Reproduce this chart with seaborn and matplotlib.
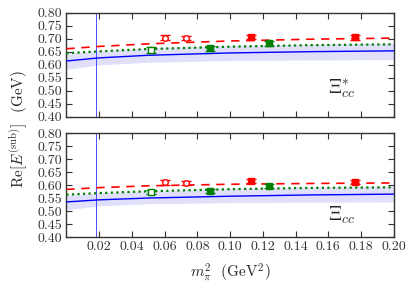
import matplotlib
matplotlib.use("Agg")
import matplotlib.pyplot as plt
import seaborn as sns
import pandas as pd

sns.set_style("ticks")
plt.rcParams['font.family'] = 'serif'
plt.rcParams['font.serif'] = ['cmr10', 'DejaVu Serif']
plt.rcParams['mathtext.fontset'] = 'cm'
plt.rcParams['axes.unicode_minus'] = False
plt.rcParams['axes.formatter.use_mathtext'] = True

# physical point
x_phys = 0.0184

# fit curves (read at sample x)
curve_x = [0.0, 0.02, 0.05, 0.10, 0.15, 0.20]
top_red = [0.662, 0.671, 0.681, 0.692, 0.699, 0.703]
top_green = [0.645, 0.652, 0.661, 0.670, 0.676, 0.679]
top_blue = [0.615, 0.627, 0.637, 0.646, 0.651, 0.654]
top_band_lo = [0.583, 0.600, 0.610, 0.617, 0.619, 0.620]
top_band_hi = [0.645, 0.655, 0.665, 0.675, 0.680, 0.685]

bot_red = [0.583, 0.590, 0.597, 0.603, 0.606, 0.608]
bot_green = [0.563, 0.569, 0.576, 0.584, 0.589, 0.591]
bot_blue = [0.535, 0.543, 0.550, 0.557, 0.562, 0.565]
bot_band_lo = [0.505, 0.520, 0.528, 0.532, 0.534, 0.535]
bot_band_hi = [0.560, 0.570, 0.578, 0.587, 0.592, 0.596]

# lattice points
red_open_x = [0.0604, 0.073]
red_fill_x = [0.113, 0.176]
green_open_x = [0.052]
green_fill_x = [0.0876, 0.124]

top_red_open_y = [0.705, 0.703]
top_red_open_e = [0.010, 0.009]
top_red_fill_y = [0.707, 0.706]
top_red_fill_e = [0.009, 0.009]
top_green_open_y = [0.658]
top_green_open_e = [0.012]
top_green_fill_y = [0.664, 0.683]
top_green_fill_e = [0.009, 0.010]

bot_red_open_y = [0.610, 0.608]
bot_red_open_e = [0.008, 0.007]
bot_red_fill_y = [0.617, 0.611]
bot_red_fill_e = [0.008, 0.008]
bot_green_open_y = [0.572]
bot_green_open_e = [0.007]
bot_green_fill_y = [0.578, 0.596]
bot_green_fill_e = [0.007, 0.008]

yticks = [0.40, 0.45, 0.50, 0.55, 0.60, 0.65, 0.70, 0.75, 0.80]
xticks = [0.02, 0.04, 0.06, 0.08, 0.10, 0.12, 0.14, 0.16, 0.18, 0.20]

RED = '#ff0000'
GREEN = '#007f00'
BLUE = '#0000ff'

fig = plt.figure(figsize=(4.12, 2.93), dpi=100)
ax1 = fig.add_axes([0.161, 0.601, 0.795, 0.355])
ax2 = fig.add_axes([0.161, 0.191, 0.795, 0.355])


def panel(ax, red, green, blue, lo, hi, pts, label, lpos):
    df = pd.DataFrame({'x': curve_x, 'red': red, 'green': green, 'blue': blue})
    ax.fill_between(curve_x, lo, hi, color='#e0e0fb', lw=0, zorder=1)
    sns.lineplot(data=df, x='x', y='blue', ax=ax, color=BLUE, lw=1.0, zorder=3)
    sns.lineplot(data=df, x='x', y='green', ax=ax, color=GREEN, lw=1.6,
                 linestyle=(0, (1, 1.5)), zorder=3)
    sns.lineplot(data=df, x='x', y='red', ax=ax, color=RED, lw=1.2,
                 linestyle=(0, (5, 4)), zorder=3)
    ax.axvline(x_phys, color='#4a4aff', lw=0.7, zorder=2)
    (rox, roy, roe), (rfx, rfy, rfe), (gox, goy, goe), (gfx, gfy, gfe) = pts
    kw = dict(ls='none', capsize=3.5, elinewidth=1.0, capthick=1.0, zorder=5)
    ax.errorbar(rox, roy, yerr=roe, color=RED, marker='o', ms=4, mfc='white', mec=RED, **kw)
    ax.errorbar(rfx, rfy, yerr=rfe, color=RED, marker='s', ms=4, mfc=RED, mec=RED, **kw)
    ax.errorbar(gox, goy, yerr=goe, color=GREEN, marker='s', ms=4, mfc='white', mec=GREEN, **kw)
    ax.errorbar(gfx, gfy, yerr=gfe, color=GREEN, marker='s', ms=4, mfc=GREEN, mec=GREEN, **kw)
    ax.set_xlim(0, 0.20)
    ax.set_ylim(0.40, 0.80)
    ax.set_xticks(xticks)
    ax.set_yticks(yticks)
    ax.set_yticklabels([f'{v:.2f}' for v in yticks])
    ax.tick_params(direction='in', top=True, right=True, length=4, width=0.8,
                   labelsize=10, pad=3, colors='#333333')
    ax.set_xlabel('')
    ax.set_ylabel('')
    for s in ax.spines.values():
        s.set_linewidth(1.0)
        s.set_color('#333333')
    ax.text(lpos[0], lpos[1], label, fontsize=14, ha='left', va='center')


panel(ax1, top_red, top_green, top_blue, top_band_lo, top_band_hi,
      [(red_open_x, top_red_open_y, top_red_open_e),
       (red_fill_x, top_red_fill_y, top_red_fill_e),
       (green_open_x, top_green_open_y, top_green_open_e),
       (green_fill_x, top_green_fill_y, top_green_fill_e)],
      r'$\Xi_{cc}^{*}$', (0.160, 0.51))
panel(ax2, bot_red, bot_green, bot_blue, bot_band_lo, bot_band_hi,
      [(red_open_x, bot_red_open_y, bot_red_open_e),
       (red_fill_x, bot_red_fill_y, bot_red_fill_e),
       (green_open_x, bot_green_open_y, bot_green_open_e),
       (green_fill_x, bot_green_fill_y, bot_green_fill_e)],
      r'$\Xi_{cc}$', (0.160, 0.485))

ax1.tick_params(labelbottom=False)
ax2.set_xticklabels([f'{v:.2f}' for v in xticks])

fig.text(0.045, 0.56, r'Re$[E^{(\rm sub)}]$  (GeV)', rotation=90,
         ha='center', va='center', fontsize=11)
fig.text(0.56, 0.07, r'$m_\pi^2$  (GeV$^2$)', ha='center', va='center', fontsize=11)

fig.savefig('out.png', dpi=100)
